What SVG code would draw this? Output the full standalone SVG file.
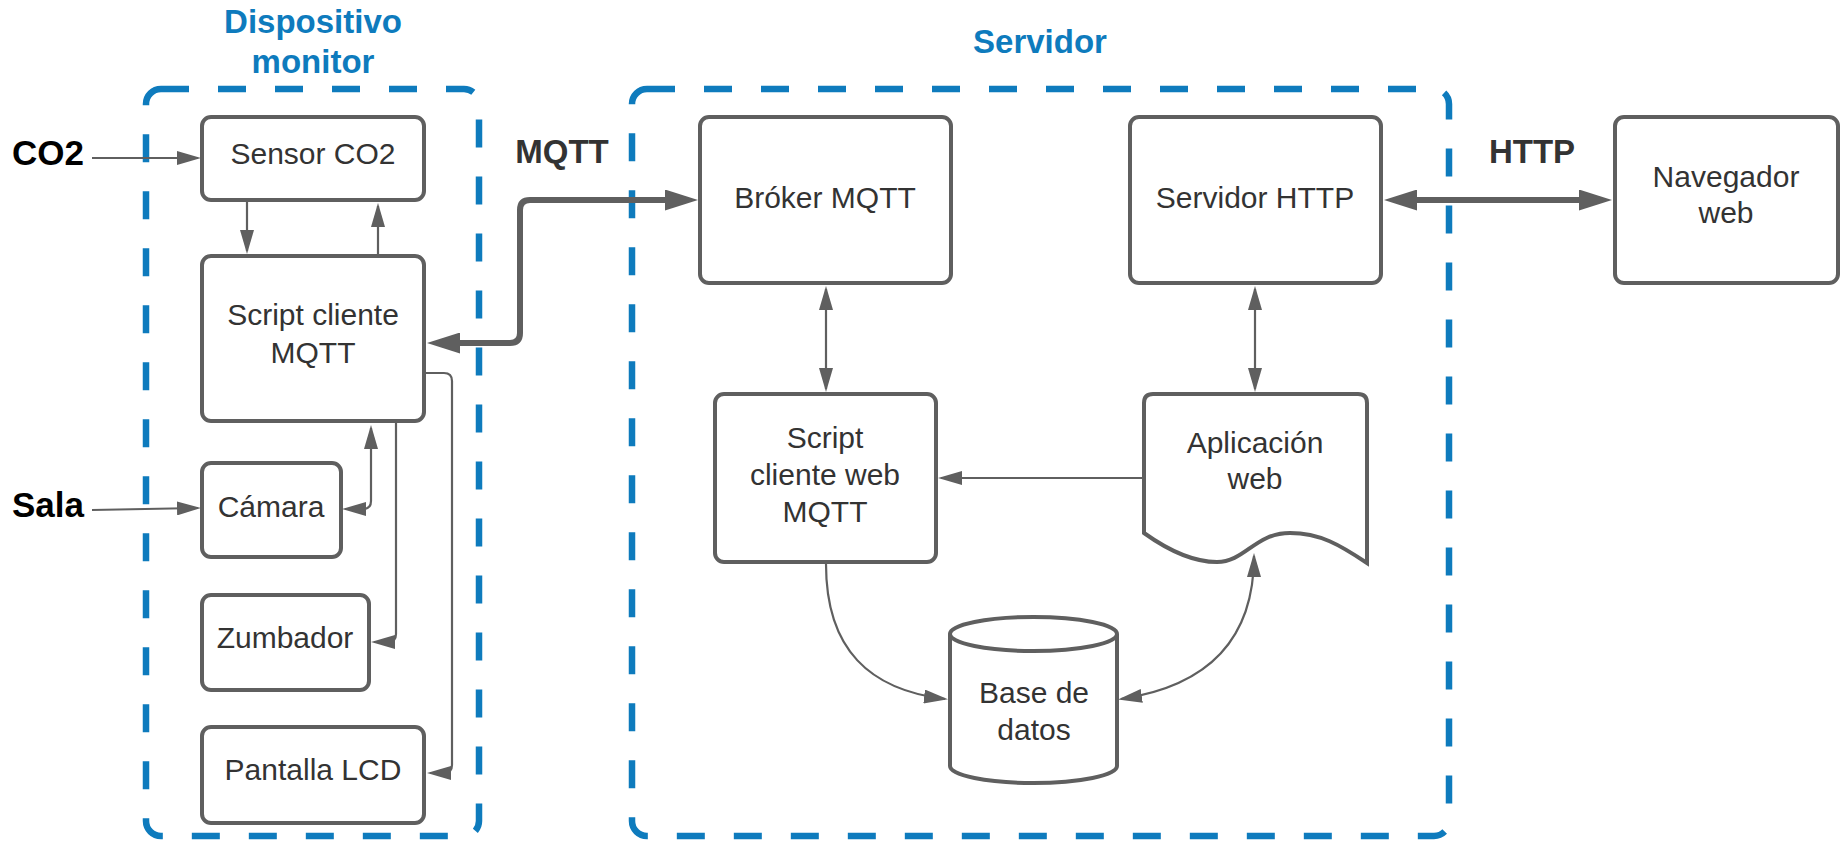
<svg xmlns="http://www.w3.org/2000/svg" width="1843" height="842" viewBox="0 0 1843 842">
<style>
.box{fill:#fff;stroke:#5f5f5f;stroke-width:4}
.cont{fill:none;stroke:#0e7bbd;stroke-width:6.5;stroke-dasharray:28 29}
.t{font-family:"Liberation Sans",Arial,sans-serif;font-size:30px;fill:#333;text-anchor:middle}
.grp{font-family:"Liberation Sans",Arial,sans-serif;font-size:33px;font-weight:bold;fill:#0e7bbd;text-anchor:middle}
.proto{font-family:"Liberation Sans",Arial,sans-serif;font-size:33px;font-weight:bold;fill:#333;text-anchor:middle}
.inp{font-family:"Liberation Sans",Arial,sans-serif;font-size:35px;font-weight:bold;fill:#000}
.thin{fill:none;stroke:#5f5f5f;stroke-width:2.2}
.thick{fill:none;stroke:#5f5f5f;stroke-width:6}
</style>
<defs>
<marker id="a" markerUnits="userSpaceOnUse" markerWidth="24" markerHeight="14" refX="21" refY="7" orient="auto-start-reverse"><path d="M0,0 L24,7 L0,14 z" fill="#5f5f5f"/></marker>
<marker id="A" markerUnits="userSpaceOnUse" markerWidth="33" markerHeight="21" refX="23" refY="10.5" orient="auto-start-reverse"><path d="M0,0 L33,10.5 L0,21 z" fill="#5f5f5f"/></marker>
</defs>
<rect width="1843" height="842" fill="#fff"/>

<g id="containers">
<rect class="cont" x="146" y="89" width="333" height="747" rx="15"/>
<rect class="cont" x="632" y="89" width="817" height="747" rx="15"/>
<text class="grp" x="313" y="33">Dispositivo</text>
<text class="grp" x="313" y="73">monitor</text>
<text class="grp" x="1040" y="53">Servidor</text>
</g>

<g id="labels">
<text class="inp" x="12" y="165">CO2</text>
<text class="inp" x="12" y="517">Sala</text>
<text class="proto" x="562" y="163">MQTT</text>
<text class="proto" x="1532" y="163">HTTP</text>
</g>

<g id="connectors">
<path class="thin" d="M92,158 L198,158" marker-end="url(#a)"/>
<path class="thin" d="M247,202 L247,251" marker-end="url(#a)"/>
<path class="thin" d="M378,254 L378,206" marker-end="url(#a)"/>
<path class="thin" d="M92,510 L198,508" marker-end="url(#a)"/>
<path class="thin" d="M345,509 L363,509 Q371,509 371,501 L371,428" marker-start="url(#a)" marker-end="url(#a)"/>
<path class="thin" d="M396,423 L396,634 Q396,642 388,642 L374,642" marker-end="url(#a)"/>
<path class="thin" d="M426,373 L444,373 Q452,373 452,381 L452,765 Q452,773 444,773 L430,773" marker-end="url(#a)"/>
<path class="thick" d="M437,343 L510,343 Q520,343 520,333 L520,210 Q520,200 530,200 L688,200" marker-start="url(#A)" marker-end="url(#A)"/>
<path class="thin" d="M826,289 L826,389" marker-start="url(#a)" marker-end="url(#a)"/>
<path class="thin" d="M1255,289 L1255,389" marker-start="url(#a)" marker-end="url(#a)"/>
<path class="thin" d="M1144,478 L941,478" marker-end="url(#a)"/>
<path class="thin" d="M826,564 C826,650 870,690 945,699" marker-end="url(#a)"/>
<path class="thin" d="M1121,699 C1208,686 1254,640 1254,556" marker-start="url(#a)" marker-end="url(#a)"/>
<path class="thick" d="M1394,200 L1602,200" marker-start="url(#A)" marker-end="url(#A)"/>
</g>

<g id="sensor">
<rect class="box" x="202" y="117" width="222" height="83" rx="9"/>
<text class="t" x="313" y="164">Sensor CO2</text>
</g>
<g id="script-cliente">
<rect class="box" x="202" y="256" width="222" height="165" rx="9"/>
<text class="t" x="313" y="325">Script cliente</text>
<text class="t" x="313" y="363">MQTT</text>
</g>
<g id="camara">
<rect class="box" x="202" y="463" width="139" height="94" rx="9"/>
<text class="t" x="271" y="517">Cámara</text>
</g>
<g id="zumbador">
<rect class="box" x="202" y="595" width="167" height="95" rx="9"/>
<text class="t" x="285" y="648">Zumbador</text>
</g>
<g id="lcd">
<rect class="box" x="202" y="727" width="222" height="96" rx="9"/>
<text class="t" x="313" y="780">Pantalla LCD</text>
</g>
<g id="broker">
<rect class="box" x="700" y="117" width="251" height="166" rx="9"/>
<text class="t" x="825" y="208">Bróker MQTT</text>
</g>
<g id="servidor-http">
<rect class="box" x="1130" y="117" width="251" height="166" rx="9"/>
<text class="t" x="1255" y="208">Servidor HTTP</text>
</g>
<g id="navegador">
<rect class="box" x="1615" y="117" width="223" height="166" rx="9"/>
<text class="t" x="1726" y="187">Navegador</text>
<text class="t" x="1726" y="223">web</text>
</g>
<g id="script-web">
<rect class="box" x="715" y="394" width="221" height="168" rx="9"/>
<text class="t" x="825" y="448">Script</text>
<text class="t" x="825" y="485">cliente web</text>
<text class="t" x="825" y="522">MQTT</text>
</g>
<g id="aplicacion">
<path class="box" d="M1144,403 Q1144,394 1153,394 L1358,394 Q1367,394 1367,403 L1367,563 C1340,545 1320,533 1290,533 C1255,533 1245,562 1217,562 C1190,562 1165,548 1144,533 Z"/>
<text class="t" x="1255" y="453">Aplicación</text>
<text class="t" x="1255" y="489">web</text>
</g>
<g id="base-datos">
<path class="box" d="M950,634 L950,766 A83.5,17 0 0 0 1117,766 L1117,634"/>
<ellipse class="box" cx="1033.5" cy="634" rx="83.5" ry="17"/>
<text class="t" x="1034" y="703">Base de</text>
<text class="t" x="1034" y="740">datos</text>
</g>
</svg>
